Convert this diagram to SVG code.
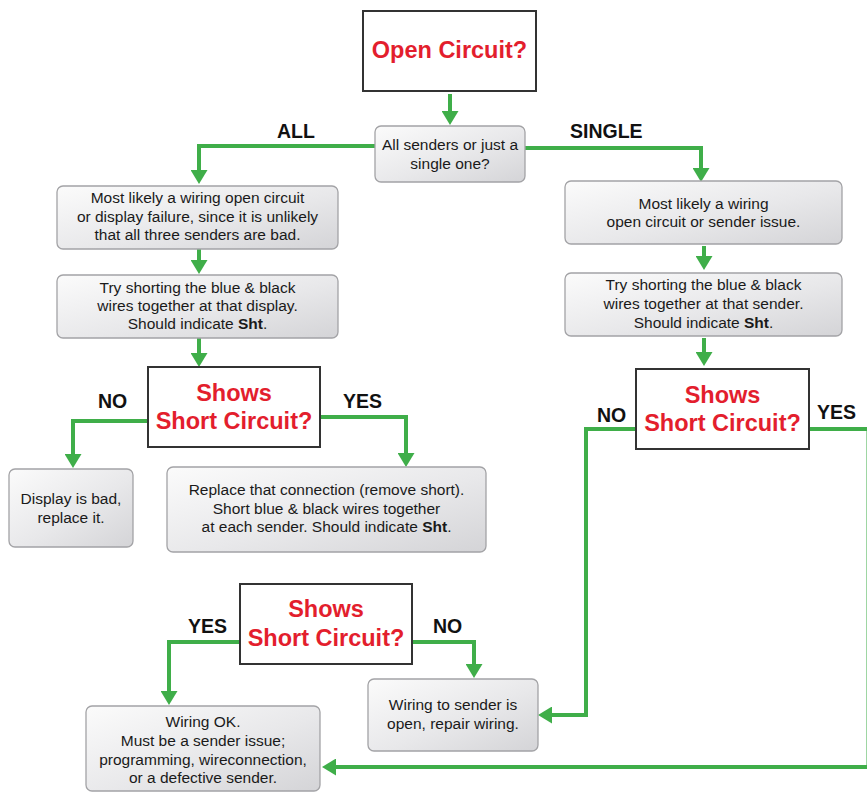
<svg xmlns="http://www.w3.org/2000/svg" width="867" height="792" viewBox="0 0 867 792">
<defs>
<linearGradient id="boxg" x1="0" y1="0" x2="1" y2="1">
<stop offset="0" stop-color="#fbfbfb"/>
<stop offset="0.55" stop-color="#e8e8ea"/>
<stop offset="1" stop-color="#d4d4d7"/>
</linearGradient>
<marker id="arr" viewBox="0 0 14 17" refX="6" refY="8.5" markerWidth="14" markerHeight="17" orient="auto" markerUnits="userSpaceOnUse">
<path d="M0,0 L14,8.5 L0,17 z" fill="#3fae49"/>
</marker>
</defs>
<style>
.box{fill:url(#boxg);stroke:#a3a3a6;stroke-width:1.3}
.dec{fill:#fff;stroke:#333;stroke-width:2}
.t{font-family:"Liberation Sans",Arial,sans-serif;font-size:15.5px;fill:#1a1a1a;text-anchor:middle}
.b{font-weight:bold}
.dt{font-family:"Liberation Sans",Arial,sans-serif;font-size:23.5px;font-weight:bold;fill:#e31e2d;text-anchor:middle}
.lbl{font-family:"Liberation Sans",Arial,sans-serif;font-size:19.5px;font-weight:bold;fill:#111}
.c{fill:none;stroke:#3fae49;stroke-width:4}
</style>
<rect width="867" height="792" fill="#fff"/>

<g id="connectors">
<path class="c" d="M450,94 V117" marker-end="url(#arr)"/>
<path class="c" d="M375,146 H199 V176" marker-end="url(#arr)"/>
<path class="c" d="M525,148 H701 V174" marker-end="url(#arr)"/>
<path class="c" d="M199,249 V266" marker-end="url(#arr)"/>
<path class="c" d="M199,338 V359" marker-end="url(#arr)"/>
<path class="c" d="M148,421 H73 V460" marker-end="url(#arr)"/>
<path class="c" d="M320,417 H406 V459" marker-end="url(#arr)"/>
<path class="c" d="M704,246 V262" marker-end="url(#arr)"/>
<path class="c" d="M704,338 V358" marker-end="url(#arr)"/>
<path class="c" d="M636,429 H586 V715 H546" marker-end="url(#arr)"/>
<path class="c" d="M809,429 H868.5 V767 H330" marker-end="url(#arr)"/>
<path class="c" d="M240,642 H169 V697" marker-end="url(#arr)"/>
<path class="c" d="M412,642 H474 V670" marker-end="url(#arr)"/>
<text class="lbl" x="277" y="138">ALL</text>
<text class="lbl" x="570" y="138">SINGLE</text>
<text class="lbl" x="98" y="408">NO</text>
<text class="lbl" x="343" y="408">YES</text>
<text class="lbl" x="597" y="422">NO</text>
<text class="lbl" x="817" y="419">YES</text>
<text class="lbl" x="188" y="633">YES</text>
<text class="lbl" x="433" y="633">NO</text>
</g>

<g id="open-circuit">
<rect class="dec" x="363" y="11" width="173" height="80"/>
<text class="dt" x="449.5" y="58" font-size="24">Open Circuit?</text>
</g>

<g id="all-or-single">
<rect class="box" x="375" y="126" width="150" height="56" rx="6"/>
<text class="t" x="450" y="150">All senders or just a</text>
<text class="t" x="450" y="169">single one?</text>
</g>

<g id="all-likely">
<rect class="box" x="57" y="186" width="281" height="63" rx="6"/>
<text class="t" x="197.5" y="203">Most likely a wiring open circuit</text>
<text class="t" x="197.5" y="222">or display failure, since it is unlikely</text>
<text class="t" x="197.5" y="240">that all three senders are bad.</text>
</g>

<g id="all-try">
<rect class="box" x="57" y="275" width="281" height="63" rx="6"/>
<text class="t" x="197.5" y="293">Try shorting the blue &amp; black</text>
<text class="t" x="197.5" y="311">wires together at that display.</text>
<text class="t" x="197.5" y="329">Should indicate <tspan class="b">Sht</tspan>.</text>
</g>

<g id="shows-1">
<rect class="dec" x="148" y="367" width="172" height="80"/>
<text class="dt" x="234" y="401">Shows</text>
<text class="dt" x="234" y="429">Short Circuit?</text>
</g>

<g id="display-bad">
<rect class="box" x="9" y="469" width="124" height="78" rx="6"/>
<text class="t" x="71" y="504">Display is bad,</text>
<text class="t" x="71" y="523">replace it.</text>
</g>

<g id="replace-connection">
<rect class="box" x="167" y="467" width="319" height="85" rx="6"/>
<text class="t" x="326.5" y="495">Replace that connection (remove short).</text>
<text class="t" x="326.5" y="514">Short blue &amp; black wires together</text>
<text class="t" x="326.5" y="532">at each sender. Should indicate <tspan class="b">Sht</tspan>.</text>
</g>

<g id="single-likely">
<rect class="box" x="565" y="181" width="277" height="63" rx="6"/>
<text class="t" x="703.5" y="209">Most likely a wiring</text>
<text class="t" x="703.5" y="227">open circuit or sender issue.</text>
</g>

<g id="single-try">
<rect class="box" x="565" y="273" width="277" height="63" rx="6"/>
<text class="t" x="703.5" y="290">Try shorting the blue &amp; black</text>
<text class="t" x="703.5" y="309">wires together at that sender.</text>
<text class="t" x="703.5" y="328">Should indicate <tspan class="b">Sht</tspan>.</text>
</g>

<g id="shows-2">
<rect class="dec" x="636" y="369" width="173" height="80"/>
<text class="dt" x="722.5" y="403">Shows</text>
<text class="dt" x="722.5" y="431">Short Circuit?</text>
</g>

<g id="shows-3">
<rect class="dec" x="240" y="584" width="172" height="80"/>
<text class="dt" x="326" y="617">Shows</text>
<text class="dt" x="326" y="646">Short Circuit?</text>
</g>

<g id="wiring-open">
<rect class="box" x="368" y="679" width="170" height="72" rx="6"/>
<text class="t" x="453" y="710">Wiring to sender is</text>
<text class="t" x="453" y="729">open, repair wiring.</text>
</g>

<g id="wiring-ok">
<rect class="box" x="86" y="706" width="234" height="85" rx="6"/>
<text class="t" x="203" y="727">Wiring OK.</text>
<text class="t" x="203" y="746">Must be a sender issue;</text>
<text class="t" x="203" y="765">programming, wireconnection,</text>
<text class="t" x="203" y="783">or a defective sender.</text>
</g>
</svg>
